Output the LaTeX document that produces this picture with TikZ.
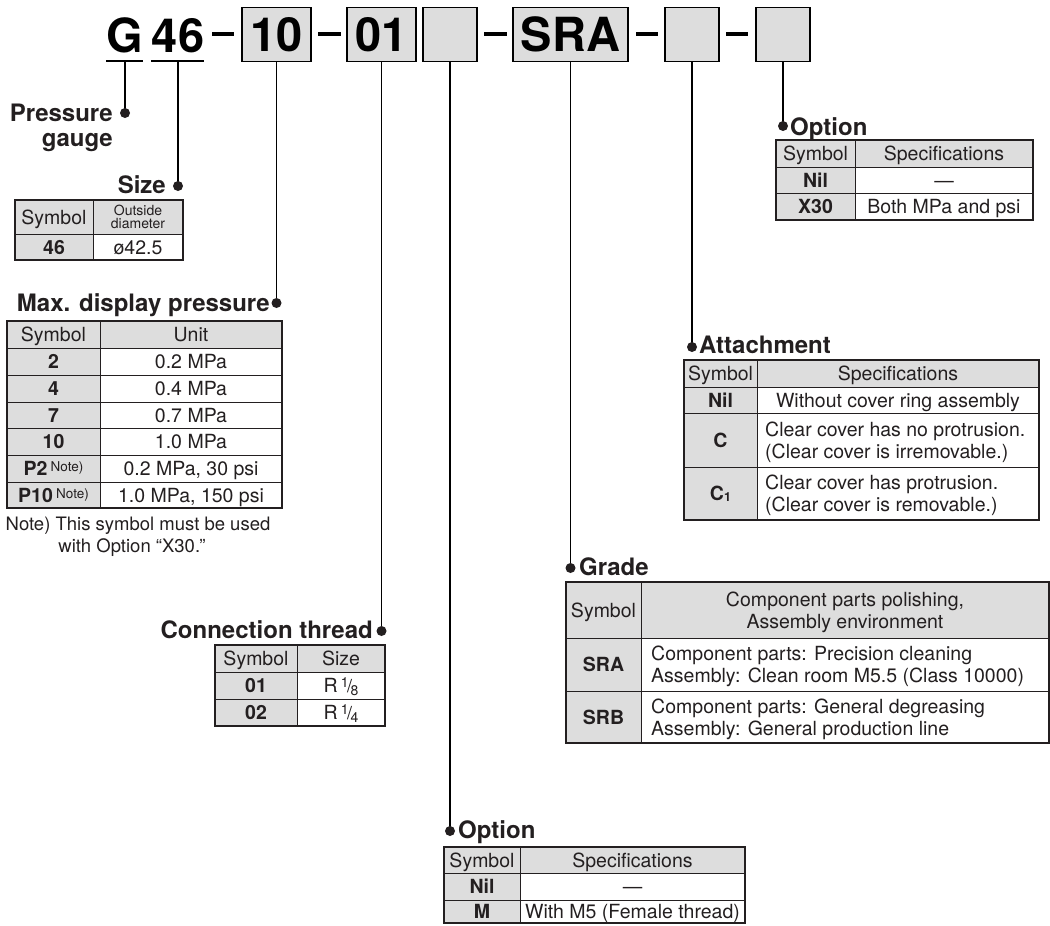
\documentclass[tikz,border=0pt]{standalone}
\usepackage{fontspec}
\setmainfont{TeX Gyre Heros}
\definecolor{ink}{RGB}{35,31,32}
\definecolor{gfill}{RGB}{221,221,221}
\newcommand{\tfont}{\fontsize{19.5}{22}\selectfont}
\newcommand{\hfont}{\fontsize{24}{26}\selectfont\bfseries}
\newcommand{\cfont}{\fontsize{47}{50}\selectfont\bfseries}
\newcommand{\nsup}{\,\raisebox{4pt}{\fontsize{13.5}{13.5}\selectfont\mdseries Note)}}
\newcommand{\fracr}[2]{R\,\raisebox{5pt}{\fontsize{14}{14}\selectfont #1}\kern-1.5pt{\fontsize{18}{18}\selectfont /}\kern-1.5pt\raisebox{-2.5pt}{\fontsize{14}{14}\selectfont #2}}
\begin{document}
\begin{tikzpicture}[x=1pt,y=-1pt]
\tikzset{
 codebox/.style={draw=black, line width=1.8pt, fill=gfill, inner sep=0pt, minimum height=54pt, font=\cfont, text height=34pt, text depth=0pt},
 codetxt/.style={font=\cfont, inner sep=0pt, text height=34pt, text depth=0pt},
 conn/.style={line width=1.8pt, draw=black},
 dashbar/.style={line width=4pt, draw=black},
 outerb/.style={draw=ink, line width=1.6pt},
 innerb/.style={draw=ink, line width=1pt},
 tt/.style={font=\tfont, text=ink, inner sep=0pt, text height=14pt, text depth=0pt},
 ttb/.style={tt, font=\tfont\bfseries},
 hd/.style={font=\hfont, text=ink, inner sep=0pt},
 small/.style={font=\fontsize{14}{14}\selectfont, text=ink, inner sep=0pt, anchor=base},
 dotc/.style={fill=ink},
}
\useasboundingbox (0,0) rectangle (1050,926);

% ---------- code line ----------
\node[codetxt] (g) at (125,35) {G};
\node[codetxt] (s46) at (178,35) {46};
\draw[conn] (106,61) -- (143,61);
\draw[conn] (151,61) -- (204,61);
\coordinate (gu) at (125,61);
\coordinate (su) at (178,61);
\node[codebox, minimum width=69pt] (b10) at (276.5,34.5) {10};
\node[codebox, minimum width=69pt] (b01) at (381.5,34.5) {01};
\node[codebox, minimum width=54pt] (bopt) at (450,34.5) {};
\node[codebox, minimum width=115pt] (bsra) at (570.5,34.5) {SRA};
\node[codebox, minimum width=54pt] (batt) at (692,34.5) {};
\node[codebox, minimum width=54pt] (bx30) at (783,34.5) {};
\draw[dashbar] (212,34) -- (234,34);
\draw[dashbar] (318,34) -- (341,34);
\draw[dashbar] (484,34) -- (507,34);
\draw[dashbar] (636,34) -- (658,34);
\draw[dashbar] (726,34) -- (748,34);

% ---------- connectors ----------
\coordinate (dg) at (125,113);
\coordinate (ds) at (178,186);
\coordinate (d10) at (276.5,303);
\coordinate (d01) at (381.5,631);
\coordinate (dopt) at (450,831);
\coordinate (dsra) at (570.5,568);
\coordinate (datt) at (692,347);
\coordinate (dx30) at (783,126);
\draw[conn] (gu) -- (dg);
\draw[conn] (su) -- (ds);
\draw[conn] (b10.south) -- (d10);
\draw[conn] (b01.south) -- (d01);
\draw[conn] (bopt.south) -- (dopt);
\draw[conn] (bsra.south) -- (dsra);
\draw[conn] (batt.south) -- (datt);
\draw[conn] (bx30.south) -- (dx30);
\foreach \d in {dg,ds,d10,d01,dopt,dsra,datt,dx30} \fill[dotc] (\d) circle (5);

% ---------- headings ----------
\node[hd, anchor=base east] (hpg1) at (113,121) {Pressure};
\node[hd, anchor=base east] (hpg2) at (113,146) {gauge};
\node[hd, anchor=base east] (hsize) at (166,193) {Size};
\node[hd, anchor=base east] (hmax) at (270,311) {Max. display pressure};
\node[hd, anchor=base east] (hcon) at (373,638) {Connection thread};
\node[hd, anchor=base west] (hopt) at (458,838) {Option};
\node[hd, anchor=base west] (hgr) at (579,575) {Grade};
\node[hd, anchor=base west] (hatt) at (699,353) {Attachment};
\node[hd, anchor=base west] (hx30) at (790,135) {Option};

% ---------- Size table ----------
\fill[gfill] (15,200) rectangle (183,234);
\fill[gfill] (15,234) rectangle (93,260);
\draw[innerb] (93,200) -- (93,260);
\draw[innerb] (15,234) -- (183,234);
\draw[outerb] (15,200) rectangle (183,260);
\node[tt] (s1) at (54,217) {Symbol};
\node[small] (s2) at (138,215.5) {Outside};
\node[small] (s3) at (138,228.5) {diameter};
\node[ttb] (s4) at (54,247) {46};
\node[tt] (s5) at (138,247) {ø42.5};

% ---------- Max display pressure table ----------
\fill[gfill] (7,321) rectangle (282,348);
\fill[gfill] (7,348) rectangle (100,508);
\draw[innerb] (100,321) -- (100,508);
\foreach \yy in {348,375,402,428,455,482} \draw[innerb] (7,\yy) -- (282,\yy);
\draw[outerb] (7,321) rectangle (282,508);
\node[tt] (m0a) at (53.5,334.5) {Symbol};
\node[tt] (m0b) at (191,334.5) {Unit};
\node[ttb] (m1a) at (53.5,361.5) {2};
\node[tt] (m1b) at (191,361.5) {0.2 MPa};
\node[ttb] (m2a) at (53.5,388.5) {4};
\node[tt] (m2b) at (191,388.5) {0.4 MPa};
\node[ttb] (m3a) at (53.5,415) {7};
\node[tt] (m3b) at (191,415) {0.7 MPa};
\node[ttb] (m4a) at (53.5,441.5) {10};
\node[tt] (m4b) at (191,441.5) {1.0 MPa};
\node[ttb] (m5a) at (53.5,468.5) {P2\nsup};
\node[tt] (m5b) at (191,468.5) {0.2 MPa, 30 psi};
\node[ttb] (m6a) at (53.5,495) {P10\nsup};
\node[tt] (m6b) at (191,495) {1.0 MPa, 150 psi};
\node[font=\fontsize{18.5}{22}\selectfont, text=ink, inner sep=0pt, anchor=base] (n1) at (138,530) {Note) This symbol must be used};
\node[font=\fontsize{18.5}{22}\selectfont, text=ink, inner sep=0pt, anchor=base] (n2) at (132,552) {with Option “X30.”};

% ---------- Connection thread table ----------
\fill[gfill] (215,645) rectangle (385,672);
\fill[gfill] (215,672) rectangle (297,726);
\draw[innerb] (297,645) -- (297,726);
\foreach \yy in {672,699} \draw[innerb] (215,\yy) -- (385,\yy);
\draw[outerb] (215,645) rectangle (385,726);
\node[tt] (c0a) at (256,658.5) {Symbol};
\node[tt] (c0b) at (341,658.5) {Size};
\node[ttb] (c1a) at (256,685.5) {01};
\node[tt] (c1b) at (341,685.5) {\fracr{1}{8}};
\node[ttb] (c2a) at (256,712.5) {02};
\node[tt] (c2b) at (341,712.5) {\fracr{1}{4}};

% ---------- Option (bottom) table ----------
\fill[gfill] (444,847) rectangle (745,873);
\fill[gfill] (444,873) rectangle (520,923);
\draw[innerb] (520,847) -- (520,923);
\foreach \yy in {873,900} \draw[innerb] (444,\yy) -- (745,\yy);
\draw[outerb] (444,847) rectangle (745,923);
\node[tt] (o0a) at (482,860) {Symbol};
\node[tt] (o0b) at (632.5,860) {Specifications};
\node[ttb] (o1a) at (482,886.5) {Nil};
\node[tt] (o1b) at (632.5,886.5) {—};
\node[ttb] (o2a) at (482,911.5) {M};
\node[tt] (o2b) at (632.5,911.5) {With M5 (Female thread)};

% ---------- Grade table ----------
\fill[gfill] (566,582) rectangle (1049,638);
\fill[gfill] (566,638) rectangle (641,743);
\draw[innerb] (641,582) -- (641,743);
\foreach \yy in {638,691} \draw[innerb] (566,\yy) -- (1049,\yy);
\draw[outerb] (566,582) rectangle (1049,743);
\node[tt] (g0a) at (603.5,610) {Symbol};
\node[tt] (g0b) at (845,599) {Component parts polishing,};
\node[tt] (g0c) at (845,621) {Assembly environment};
\node[ttb] (g1a) at (603.5,664.5) {SRA};
\node[tt, anchor=west] (g1b) at (651,653.5) {Component parts: Precision cleaning};
\node[tt, anchor=west] (g1c) at (651,675.5) {Assembly: Clean room M5.5 (Class 10000)};
\node[ttb] (g2a) at (603.5,717) {SRB};
\node[tt, anchor=west] (g2b) at (651,706) {Component parts: General degreasing};
\node[tt, anchor=west] (g2c) at (651,728) {Assembly: General production line};

% ---------- Attachment table ----------
\fill[gfill] (684,360) rectangle (1039,387);
\fill[gfill] (684,387) rectangle (757,520);
\draw[innerb] (757,360) -- (757,520);
\foreach \yy in {387,413,467} \draw[innerb] (684,\yy) -- (1039,\yy);
\draw[outerb] (684,360) rectangle (1039,520);
\node[tt] (a0a) at (720.5,373.5) {Symbol};
\node[tt] (a0b) at (898,373.5) {Specifications};
\node[ttb] (a1a) at (720.5,400) {Nil};
\node[tt] (a1b) at (898,400) {Without cover ring assembly};
\node[ttb] (a2a) at (720.5,440) {C};
\node[tt, anchor=west] (a2b) at (765,429) {Clear cover has no protrusion.};
\node[tt, anchor=west] (a2c) at (765,451) {(Clear cover is irremovable.)};
\node[ttb] (a3a) at (720.5,493.5) {C\raisebox{-1pt}{\fontsize{12.5}{12.5}\selectfont 1}};
\node[tt, anchor=west] (a3b) at (765,482.5) {Clear cover has protrusion.};
\node[tt, anchor=west] (a3c) at (765,504.5) {(Clear cover is removable.)};

% ---------- Option (top) table ----------
\fill[gfill] (776,140) rectangle (1033,167);
\fill[gfill] (776,167) rectangle (855,220);
\draw[innerb] (855,140) -- (855,220);
\foreach \yy in {167,193} \draw[innerb] (776,\yy) -- (1033,\yy);
\draw[outerb] (776,140) rectangle (1033,220);
\node[tt] (x0a) at (815.5,153.5) {Symbol};
\node[tt] (x0b) at (944,153.5) {Specifications};
\node[ttb] (x1a) at (815.5,180) {Nil};
\node[tt] (x1b) at (944,180) {—};
\node[ttb] (x2a) at (815.5,206.5) {X30};
\node[tt] (x2b) at (944,206.5) {Both MPa and psi};
\end{tikzpicture}
\end{document}
